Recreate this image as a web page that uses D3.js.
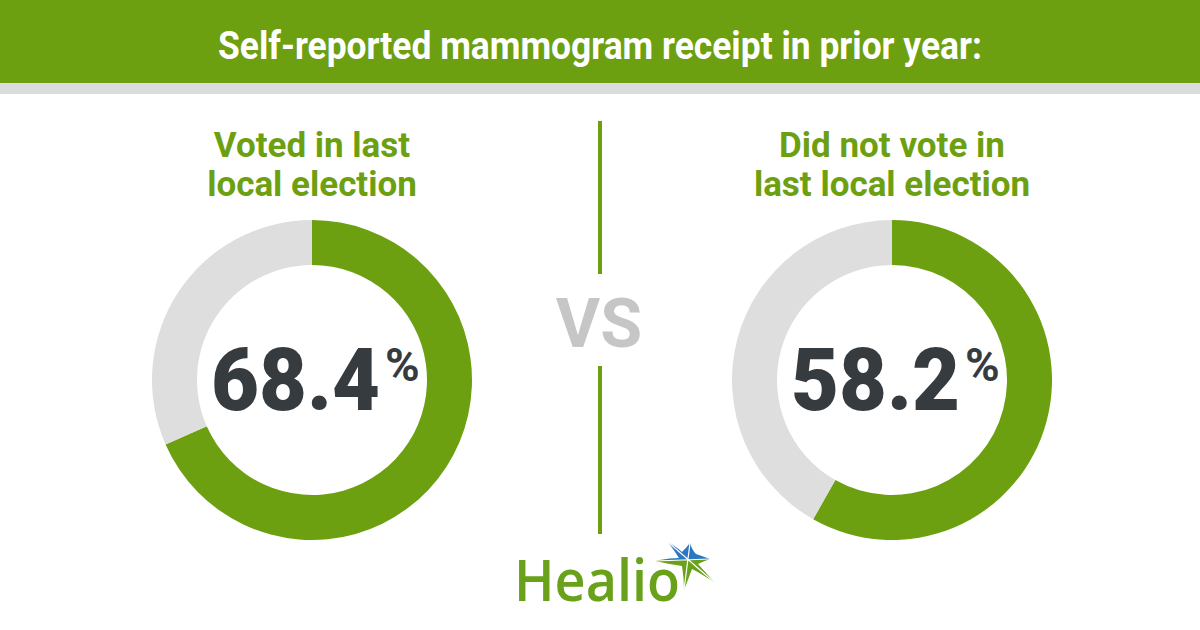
<!DOCTYPE html>
<html lang="en">
<head>
    <meta charset="UTF-8">
    <title>Self-reported mammogram receipt</title>
    <script src="https://d3js.org/d3.v7.min.js"></script>
</head>
<style>
    html,body {
        margin: 0;
        padding: 0;
        background: #fff;
    }
</style>
<body>
    <div id="svg"></div>
</body>
<script>
    // data
    const title = 'Self-reported mammogram receipt in prior year:';
    const groups = ['voted', 'notVoted'];
    const groupLabels = [
        ['Voted in last', 'local election'],
        ['Did not vote in', 'last local election']
    ];
    const values = [68.4, 58.2];

    const width = 1200;
    const height = 630;
    const green = '#6da010';
    const lightGray = '#dedede';
    const dark = '#363b3f';

    const svg = d3.select('#svg').append('svg')
        .attr('width', width)
        .attr('height', height);

    // squeeze a text horizontally so it is w wide
    const fitWidth = (sel, x, y, w) => {
        const len = sel.node().getComputedTextLength();
        sel.attr('transform', `translate(${x}, ${y}) scale(${w / len}, 1)`);
    };

    // header band
    svg.append('rect').attr('x', 0).attr('y', 0).attr('width', width).attr('height', 83).attr('fill', green);
    svg.append('rect').attr('x', 0).attr('y', 83).attr('width', width).attr('height', 11).attr('fill', '#dcdcdc');
    const titleText = svg.append('text')
        .attr('fill', '#fff')
        .attr('font-family', 'Roboto')
        .attr('font-weight', 700)
        .attr('font-size', '38px')
        .text(title);
    fitWidth(titleText, 218, 59, 764);

    // centre of each donut
    const xScale = d3.scalePoint().domain(groups).range([312, 892]);
    const cy = 380;

    const pie = d3.pie().sort(null).value(d => d);
    const arc = d3.arc().innerRadius(115).outerRadius(160);

    groups.forEach((g, i) => {
        const cx = xScale(g);
        const grp = svg.append('g').attr('transform', `translate(${cx}, ${cy})`);
        grp.selectAll('path')
            .data(pie([values[i], 100 - values[i]]))
            .enter().append('path')
            .attr('d', arc)
            .attr('fill', (d, j) => j === 0 ? green : lightGray);

        // number and superscript percent sign
        const num = grp.append('text')
            .attr('fill', dark)
            .attr('font-family', 'Roboto')
            .attr('font-weight', 900)
            .attr('font-size', '88px')
            .text(values[i].toFixed(1));
        fitWidth(num, -101, 30, 169);
        grp.append('text')
            .attr('x', 73).attr('y', 1)
            .attr('fill', dark)
            .attr('font-family', 'Roboto')
            .attr('font-weight', 700)
            .attr('font-size', '47px')
            .text('%');

        // group label
        svg.append('text')
            .attr('text-anchor', 'middle')
            .attr('fill', green)
            .attr('font-family', 'Roboto')
            .attr('font-weight', 700)
            .attr('font-size', '35px')
            .selectAll('tspan')
            .data(groupLabels[i])
            .enter().append('tspan')
            .attr('x', cx)
            .attr('y', (d, j) => 157 + j * 39)
            .text(d => d);
    });

    // divider and VS
    svg.append('line').attr('x1', 600).attr('x2', 600).attr('y1', 121).attr('y2', 274)
        .attr('stroke', green).attr('stroke-width', 4);
    svg.append('line').attr('x1', 600).attr('x2', 600).attr('y1', 366).attr('y2', 534)
        .attr('stroke', green).attr('stroke-width', 4);
    svg.append('text')
        .attr('x', 599).attr('y', 347)
        .attr('text-anchor', 'middle')
        .attr('fill', '#c6c6c6')
        .attr('font-family', 'Roboto')
        .attr('font-weight', 700)
        .attr('font-size', '68px')
        .text('VS');

    // Healio logo
    const logo = svg.append('text')
        .attr('fill', '#69a21a')
        .attr('font-family', 'Open Sans')
        .attr('font-weight', 600)
        .attr('font-size', '58px')
        .text('Healio');
    fitWidth(logo, 514, 601, 166);

    // star mark: blue top half, green bottom half
    const starPath = 'M-20,-18 Q-10,-12 -6,-8 Q-2,-12 2,-17 Q4,-10 8,-6 Q14,-4 22,-1 Q14,2 10,4 Q18,13 27,23 Q14,14 4,9 Q0,20 -4,30 Q-4,18 -6,6 Q-20,4 -33,1 Q-20,-2 -9,-2 Q-14,-10 -20,-18 Z';
    const defs = svg.append('defs');
    defs.append('clipPath').attr('id', 'starTop')
        .append('rect').attr('x', -40).attr('y', -40).attr('width', 80).attr('height', 40);
    defs.append('clipPath').attr('id', 'starBottom')
        .append('rect').attr('x', -40).attr('y', 0).attr('width', 80).attr('height', 40);
    const star = svg.append('g').attr('transform', 'translate(688, 560)');
    star.append('path').attr('d', starPath).attr('fill', '#2b78c2').attr('clip-path', 'url(#starTop)');
    star.append('path').attr('d', starPath).attr('fill', '#69a21a').attr('clip-path', 'url(#starBottom)');
    star.append('path')
        .attr('fill', 'none')
        .attr('stroke', '#fff')
        .attr('stroke-width', 1.2)
        .attr('d', 'M-20,-18 L27,23 M-33,1 L22,-1 M2,-17 L-4,30');
</script>
</html>
